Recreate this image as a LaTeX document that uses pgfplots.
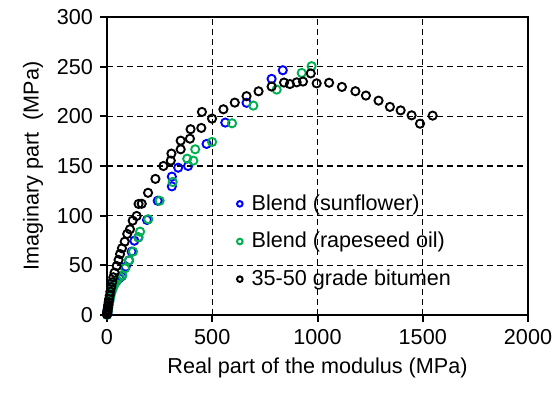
\documentclass[border=0pt]{standalone}
\usepackage{pgfplots}
\pgfplotsset{compat=1.18}
\usepackage{fontspec}
\setmainfont{Liberation Sans}
\definecolor{cblue}{RGB}{0,0,255}
\definecolor{cgreen}{RGB}{0,176,80}
\newcommand{\fs}{\fontsize{10.8}{13}\selectfont}
\begin{document}
\begin{tikzpicture}
\begin{axis}[
  scale only axis,
  width=210.5pt, height=149pt,
  xmin=0, xmax=2000, ymin=0, ymax=300,
  xtick={0,500,1000,1500,2000},
  ytick={0,50,100,150,200,250,300},
  xtick pos=bottom, ytick pos=left,
  tick align=outside,
  major tick length=3.5pt,
  every tick/.style={black, line width=1pt},
  axis line style={black, line width=1.15pt},
  grid=major,
  major grid style={black, line width=0.6pt, dash pattern=on 3pt off 2pt},
  /pgf/number format/assume math mode=true,
  /pgf/number format/1000 sep={},
  tick label style={font=\fs, black},
  label style={font=\fs, black},
  xlabel={Real part of the modulus (MPa)},
  ylabel={Imaginary part\ \ (MPa)},
  legend style={draw=none, fill=none, font=\fs, at={(0.2988,0.419)}, anchor=north west,
     inner sep=0pt, row sep=5.5pt},
  legend cell align=left,
  legend image code/.code={\path (0,0) (0.22cm,0); \draw[#1, mark size=1.4pt, line width=1pt] plot[only marks] coordinates {(0.1cm,0cm)};},
  every axis plot/.append style={only marks, mark=o, mark size=2.05pt, line width=0.95pt},
]
\addplot[cblue] coordinates {
(0.2,0.4) (0.5,1) (1,1.8) (2,3.2) (3.5,5.2) (5.5,7.8) (8,11) (11,14.5) (15,18.5) (20,23) (26,27.5) (33,31.5) (45,34) (58,37) (70,39) (89,48.6) (105,55) (117,63.8) (130,74.8) (149,78.2) (190,95.7) (241,115) (308,129.5) (308,139.3) (338,148.3) (385,150) (473,172.2) (562,193.7) (663,213.6) (782,237.7) (835,246.4)
};
\addlegendentry{Blend (sunflower)}
\addplot[cgreen] coordinates {
(0.2,0.3) (0.5,0.8) (1,1.6) (2,3) (3.5,4.8) (5.5,7.2) (8,10.3) (11,13.8) (15,17.5) (20,22) (27,26.5) (36,31) (47,35) (60,38) (73,40) (85.5,47) (104,55) (123.5,63.8) (149,78.2) (157,83.9) (196,96.4) (250,115) (312,133.9) (381,157.4) (410,155.4) (419,166.8) (499,174.2) (594,193) (695,210.8) (806,226.9) (925,243.7) (972,250.5)
};
\addlegendentry{Blend (rapeseed oil)}
\addplot[black] coordinates {
(0.2,0.5) (0.5,1.2) (1,2.2) (2,3.8) (3,5.5) (4.5,7.5) (6,10) (8,13) (10,16) (13,19.5) (16,23.5) (20,28) (25,33) (30,38) (36,42.6) (46,49.3) (55,55.4) (62,61.4) (71,67.2) (84,73.8) (96,81.6) (109,86.3) (122,95) (141,99.7) (150,111.8) (165,112) (195,123) (230,137) (268,150) (303,155.4) (306,162.5) (350,166.8) (350,175.5) (394,177.5) (397,187) (448,188.3) (451,204.4) (499,197.7) (553,207.1) (607,213.8) (663,220.3) (720,225.2) (782,230) (841,234) (869,232.5) (901,234.2) (931,235) (968,243.2) (996,233.2) (1055,233.8) (1116,229.6) (1180,225.3) (1230,220.9) (1290,215.8) (1344,209.5) (1395,206) (1447,201) (1487,192.6) (1547,200.7)
};
\addlegendentry{35-50 grade bitumen}
\end{axis}
\path (current axis.south west) ++(-53.5pt,-45pt) coordinate (bl);
\path (current axis.north east) ++(15.5pt,8.5pt) coordinate (tr);
\path (bl) rectangle (tr);
\end{tikzpicture}
\end{document}
